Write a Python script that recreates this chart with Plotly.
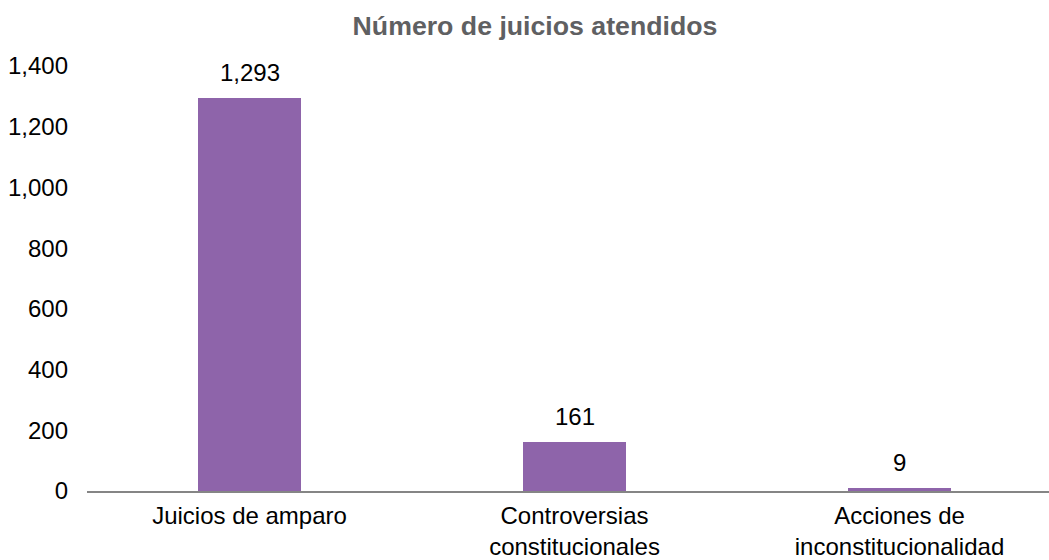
import plotly.graph_objects as go

# Datos
categorias = ["Juicios de amparo", "Controversias<br>constitucionales", "Acciones de<br>inconstitucionalidad"]
valores = [1293, 161, 9]
ticks_y = [0, 200, 400, 600, 800, 1000, 1200, 1400]

fig = go.Figure()

fig.add_trace(go.Bar(
    x=categorias, y=valores,
    marker=dict(color="#8E64AA", line=dict(width=0)),
    width=0.317,
    showlegend=False,
    hoverinfo="x+y",
))

# Etiquetas de datos sobre las barras
for c, v in zip(categorias, valores):
    fig.add_annotation(x=c, y=v, text=f"{v:,}", showarrow=False,
                       yanchor="bottom", yshift=10,
                       font=dict(size=24, color="#000000"))

fig.update_layout(
    width=1049, height=560,
    margin=dict(l=87, r=0, t=66, b=69, autoexpand=False),
    paper_bgcolor="white", plot_bgcolor="white",
    font=dict(family="Liberation Sans, Arial, Helvetica, sans-serif", size=24, color="#000000"),
    title=dict(text="<b>Número de juicios atendidos</b>", x=0.51, xanchor="center",
               y=0.955, yanchor="middle",
               font=dict(size=26.7, color="#5F6062")),
    bargap=0,
    xaxis=dict(range=[-0.5, 2.46], showline=True, linecolor="#858585", linewidth=2,
               ticks="", showgrid=False, zeroline=False, automargin=False,
               ticklabelstandoff=2, tickfont=dict(size=24)),
    yaxis=dict(range=[0, 1400], tickvals=ticks_y, tickformat=",", showgrid=False,
               zeroline=False, showline=False, ticks="", ticklabelstandoff=18,
               automargin=False, tickfont=dict(size=24)),
)

# quitar el margen del body para que la figura ocupe toda la ventana
fig.write_html("out.html", config={"displayModeBar": False},
               post_script="document.body.style.margin='0';document.body.style.overflow='hidden';")
